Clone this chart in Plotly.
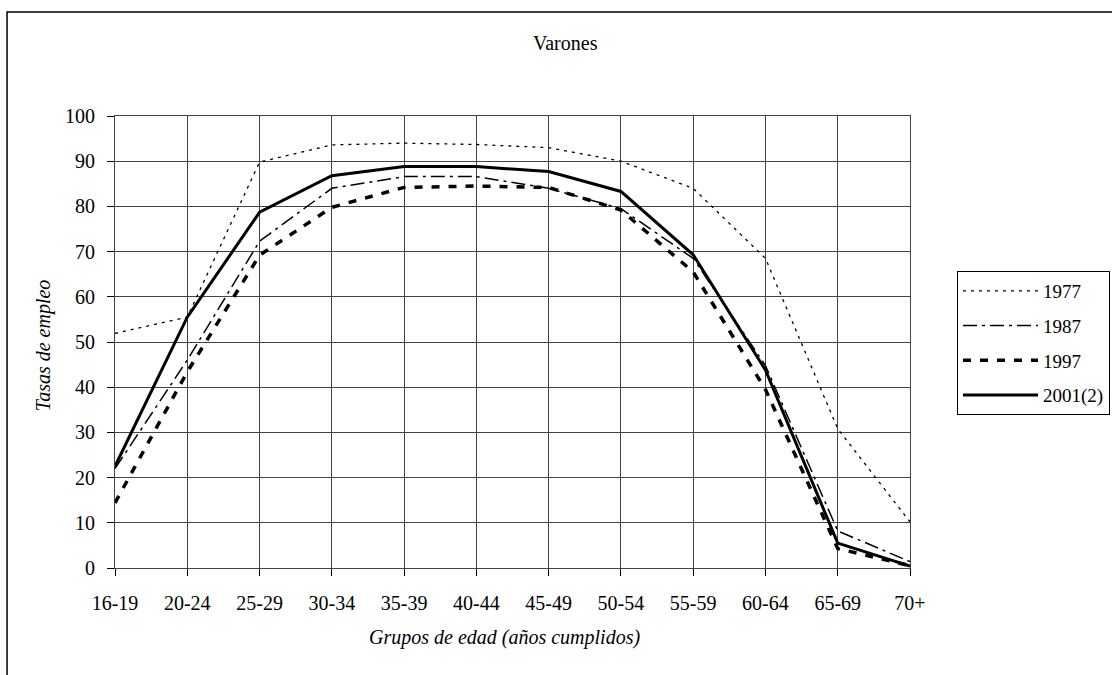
import plotly.graph_objects as go

categories = ["16-19", "20-24", "25-29", "30-34", "35-39", "40-44",
              "45-49", "50-54", "55-59", "60-64", "65-69", "70+"]
y1977 = [51.9, 55.5, 89.8, 93.6, 94.0, 93.7, 93.0, 90.0, 84.0, 68.5, 30.8, 10.2]
y1987 = [22.0, 46.0, 72.3, 84.0, 86.6, 86.6, 84.0, 79.5, 68.5, 44.8, 8.2, 1.4]
y1997 = [14.4, 43.4, 69.2, 79.8, 84.2, 84.5, 84.2, 79.2, 65.5, 39.5, 4.3, 0.5]
y2001 = [22.5, 55.5, 78.7, 86.8, 88.8, 88.8, 87.7, 83.3, 69.3, 43.8, 5.5, 0.4]
series_names = ["1977", "1987", "1997", "2001(2)"]

FONT = "Liberation Serif"

fig = go.Figure()
styles = [
    dict(color="black", width=1.3, dash="3px,5px"),
    dict(color="black", width=1.5, dash="14px,5px,3px,5px"),
    dict(color="black", width=3.5, dash="8px,9px"),
    dict(color="black", width=3, dash="solid"),
]
for name, ys, st in zip(series_names, [y1977, y1987, y1997, y2001], styles):
    fig.add_trace(go.Scatter(x=categories, y=ys, mode="lines", name=name,
                             line=st, legendgroup=name))

fig.update_layout(
    width=1112, height=675,
    margin=dict(l=115, r=202, t=116, b=107),
    paper_bgcolor="white", plot_bgcolor="white",
    font=dict(family=FONT, size=20, color="black"),
    showlegend=True,
    legend=dict(xref="container", yref="container", x=0.8606, y=0.5985,
                xanchor="left", yanchor="top",
                bordercolor="black", borderwidth=1, bgcolor="white",
                font=dict(family=FONT, size=19, color="black"),
                itemwidth=75, tracegroupgap=7),
    xaxis=dict(type="category", range=[0, 11], showgrid=True,
               gridcolor="#444", gridwidth=1,
               showline=True, linecolor="#444", linewidth=1, mirror=True,
               ticks="outside", ticklen=7, tickcolor="black",
               ticklabelstandoff=10,
               tickfont=dict(family=FONT, size=20, color="black")),
    yaxis=dict(range=[0, 100], dtick=10, showgrid=True,
               gridcolor="#444", gridwidth=1, zeroline=False,
               showline=True, linecolor="#444", linewidth=1, mirror=True,
               ticks="outside", ticklen=7, tickcolor="black",
               ticklabelstandoff=8,
               tickfont=dict(family=FONT, size=20, color="black")),
    annotations=[
        dict(text="Varones", xref="paper", yref="paper", x=0.567, y=1.1615,
             xanchor="center", yanchor="middle", showarrow=False,
             font=dict(family=FONT, size=20)),
        dict(text="<i>Grupos de edad (años cumplidos)</i>", xref="paper", yref="paper",
             x=0.49, y=-0.1527, xanchor="center", yanchor="middle", showarrow=False,
             font=dict(family=FONT, size=20)),
        dict(text="<i>Tasas de empleo</i>", xref="paper", yref="paper",
             x=-0.0906, y=0.493, xanchor="center", yanchor="middle", showarrow=False,
             textangle=-90, font=dict(family=FONT, size=20)),
    ],
    shapes=[
        dict(type="rect", xref="paper", yref="paper",
             x0=-0.1358, y0=-0.26, x1=1.27, y1=1.2301,
             line=dict(color="black", width=1.5), fillcolor="rgba(0,0,0,0)",
             layer="below"),
    ],
)

fig.write_html("out.html")
